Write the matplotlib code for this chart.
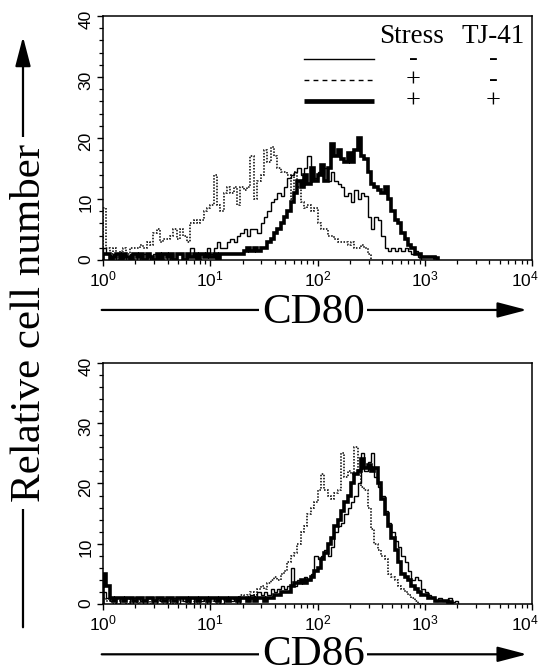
import matplotlib
matplotlib.use("Agg")
import matplotlib.pyplot as plt
import numpy as np
from matplotlib.patches import FancyArrowPatch
from matplotlib.ticker import LogLocator, MultipleLocator

# FACS histograms, 32 channels per decade over 10^0..10^4
CH_PER_DECADE = 32

# CD80: thin solid = Stress -, TJ-41 -
cd80_ctrl = [2, 1, 0, 1, 0, 1, 1, 0, 1, 0, 1, 0, 1, 1, 0, 1,
             0, 1, 1, 0, 1, 0, 1, 1, 0, 1, 2, 1, 0, 1, 1, 2,
             1, 2, 3, 2, 2, 3, 3.5, 3, 4, 4.5, 5, 4, 5, 5, 4.5, 6,
             7, 8, 9.5, 10, 11, 10.5, 12, 13.5, 14, 14.5, 15, 14, 15, 17, 14, 13.5,
             14.5, 14, 15, 13, 14.5, 13, 12.5, 12, 10.5, 11, 9.5, 11.5, 10, 11, 10.5, 7,
             5, 7, 6.5, 4, 2, 1.5, 2, 1.5, 2, 1.5, 2, 1.5, 1, 1.5, 0.5, 0]
# CD80: dotted = Stress +, TJ-41 -
cd80_stress = [8.5, 2, 1, 2, 0.5, 1.5, 2, 1, 2, 2, 2, 2.5, 2, 3, 2.5, 4.5,
               5, 3, 3.5, 3.5, 4, 5, 3.5, 5, 4, 3, 6, 6.5, 6, 6.5, 8, 8.5,
               9, 14, 9, 8, 11, 12, 11, 12, 9, 12, 11.5, 12, 17, 10, 13, 14,
               18, 16, 18.5, 17, 15, 14.5, 14.5, 14, 10, 14.5, 12, 9.5, 8.5, 9, 8, 8.5,
               6, 5, 5, 4, 4, 3.5, 3, 3, 3, 2.5, 3, 2, 2, 2.5, 2, 1]
# CD80: thick solid = Stress +, TJ-41 +
cd80_tj41 = [1, 1, 0, 0.5, 1, 0, 1, 0.5, 0, 1, 0.5, 1, 0, 1, 0.5, 0,
             1, 0, 1, 0.5, 1, 0, 1, 1, 0, 1, 0.5, 1, 0, 1, 0.5, 1,
             0.5, 1, 0, 1, 1, 1, 1, 1, 1, 1, 1.5, 2, 1.5, 2, 1.5, 2,
             2, 3, 3.5, 4.5, 5, 6, 7, 8, 9.5, 11, 13, 12, 14, 12.5, 15, 13,
             14, 15.5, 13, 15, 19, 17, 18, 16.5, 16, 17.5, 16, 18, 20, 17, 16.5, 14.5,
             12.5, 12, 11.5, 11, 12, 10, 8, 6.5, 6, 4.5, 3.5, 2.5, 2, 1, 1, 0.5,
             0.5, 0.5, 0.5, 0.3]

# CD86
cd86_ctrl = [2, 1, 0.5, 1, 0, 1, 0.5, 1, 0, 1, 1, 0.5, 0, 1, 1, 0,
             1, 0.5, 1, 0, 1, 1, 0, 1, 0.5, 1, 0, 1, 1, 0.5, 1, 0,
             1, 0.5, 1, 0, 1, 1, 0.5, 1, 0, 1, 1, 0.5, 1.5, 1, 2, 1.5,
             2, 1.5, 2.5, 2, 2.5, 3, 2.5, 3, 6, 3, 4, 3.5, 4.5, 4, 5, 8,
             7.5, 8, 9, 8, 9.5, 12, 13, 13.5, 15, 16, 17, 18, 20, 25, 22, 23.5,
             25, 21, 19.5, 18, 15.5, 13.5, 12, 10.5, 9.5, 8, 7, 5.5, 4, 4.5, 4, 2.5,
             2, 1.5, 1, 0.5, 1, 0.5, 0.5, 1, 0.3, 0.5]
cd86_stress = [1, 0.5, 1, 0, 1, 0.5, 1, 0, 1, 1, 0, 1, 0.5, 1, 0, 1,
               0.5, 1, 0, 1, 0.5, 0, 1, 0.5, 1, 0, 1, 0.5, 0, 1, 0.5, 1,
               0.5, 1, 0, 1, 0.5, 1, 1, 0.5, 1, 1.5, 1, 1.5, 2, 1.5, 2.5, 3,
               2.5, 3.5, 4, 4.5, 4, 5, 5.5, 7, 8, 8.5, 10, 12, 13, 15, 16, 17,
               19, 21.5, 19, 18, 17.5, 18.5, 19, 25, 21, 22, 21.5, 26, 22, 19.5, 19, 16,
               12.5, 10, 9, 8, 7.5, 5, 4.5, 4, 3, 2.5, 2, 1.5, 1, 0.5, 0, 0]
cd86_tj41 = [5, 3, 1, 0.5, 1, 1, 0.5, 1, 1, 0.5, 1, 1, 0.5, 1, 1, 0.5,
             1, 1, 0.5, 1, 1, 0.5, 1, 1, 1, 0.5, 1, 1, 0.5, 1, 1, 0.5,
             1, 1, 0.5, 1, 1, 0.5, 1, 1, 0.5, 1, 1, 0.5, 1, 0.5, 1, 1,
             0.5, 1, 1, 1.5, 1.5, 2, 2, 2, 3, 3.5, 3.5, 4, 3.5, 4, 4.5, 5.5,
             6, 7.5, 8.5, 10, 11, 13, 14, 15.5, 17, 18, 20, 21.5, 22, 24, 22.5, 23,
             22, 22.5, 20, 17.5, 15, 13, 11, 9, 7, 5, 4.5, 4, 3, 2.5, 2, 1.5,
             1.5, 1, 1, 0.5, 0.5, 0.5, 0.5, 0.3]

y_ticks = [0, 10, 20, 30, 40]
x_ticks = [1, 10, 100, 1000, 10000]
x_tick_labels = ["$10^{0}$", "$10^{1}$", "$10^{2}$", "$10^{3}$", "$10^{4}$"]

edges = np.logspace(0, 4, 4 * CH_PER_DECADE + 1)

SERIF = "Liberation Serif"
SANS = "Liberation Sans"
plt.rcParams["font.family"] = SANS
plt.rcParams["mathtext.fontset"] = "custom"
plt.rcParams["mathtext.rm"] = SANS
plt.rcParams["mathtext.it"] = SANS

TICK_FS = 12.5

fig = plt.figure(figsize=(5.41, 6.68), dpi=100)
ax_top = fig.add_axes([0.1904, 0.6108, 0.7930, 0.3653])
ax_bot = fig.add_axes([0.1904, 0.0958, 0.7930, 0.3608])


def draw_panel(ax, ctrl, stress, tj41):
    ax.stairs(stress, edges[:len(stress) + 1], color="k", lw=1.1,
              ls=(0, (1, 1)), zorder=2)
    ax.stairs(ctrl, edges[:len(ctrl) + 1], color="k", lw=1.0, zorder=3)
    ax.stairs(tj41, edges[:len(tj41) + 1], color="k", lw=2.6, zorder=4)
    ax.set_xscale("log")
    ax.set_xlim(1, 1e4)
    ax.set_ylim(0, 40)
    ax.set_yticks(y_ticks)
    ax.yaxis.set_minor_locator(MultipleLocator(2))
    # last decade label is nudged left below so it stays inside the figure
    ax.set_xticks(x_ticks, labels=x_tick_labels[:-1] + [""])
    ax.xaxis.set_minor_locator(LogLocator(base=10, subs=np.arange(2, 10),
                                          numticks=20))
    ax.tick_params(which="major", direction="out", length=4, width=1.0,
                   labelsize=TICK_FS, pad=2.5)
    ax.tick_params(which="minor", direction="out", length=3, width=0.9)
    ax.tick_params(axis="y", labelrotation=90, pad=3)
    ax.annotate(x_tick_labels[-1], xy=(x_ticks[-1], 0),
                xycoords=("data", "axes fraction"), xytext=(-5, -6.5),
                textcoords="offset points", ha="center", va="top",
                fontsize=TICK_FS)
    for s in ax.spines.values():
        s.set_linewidth(1.1)


draw_panel(ax_top, cd80_ctrl, cd80_stress, cd80_tj41)
draw_panel(ax_bot, cd86_ctrl, cd86_stress, cd86_tj41)

# legend drawn by hand, as in the figure
tr = ax_top.transAxes
ax_top.text(0.72, 0.889, "Stress", transform=tr, ha="center", va="baseline",
            fontsize=19.5, family=SERIF)
ax_top.text(0.909, 0.889, "TJ-41", transform=tr, ha="center", va="baseline",
            fontsize=19.5, family=SERIF)
legend_rows = [(0.824, dict(lw=1.0, ls="-"), "-", "-"),
               (0.738, dict(lw=1.0, ls=(0, (3.5, 3))), "+", "-"),
               (0.652, dict(lw=3.4, ls="-", solid_capstyle="butt"), "+", "+")]
for y, style, s1, s2 in legend_rows:
    ax_top.plot([0.469, 0.632], [y, y], transform=tr, color="k", **style)
    ax_top.text(0.723, y - 0.026, s1, transform=tr, ha="center",
                va="baseline", fontsize=19, family=SERIF)
    ax_top.text(0.909, y - 0.026, s2, transform=tr, ha="center",
                va="baseline", fontsize=19, family=SERIF)

# axis labels with arrows; CD86 sits on the bottom edge as in the figure
arrow_style = "-|>,head_length=1.8,head_width=0.47"
for y_line, y_text, label in [(0.536, 0.5165, "CD80"), (0.0205, 0.005, "CD86")]:
    fig.add_artist(FancyArrowPatch((0.188, y_line), (0.974, y_line),
                                   transform=fig.transFigure,
                                   arrowstyle=arrow_style, mutation_scale=10,
                                   lw=1.6, color="k", shrinkA=0, shrinkB=0))
    fig.text(0.579, y_text, label, ha="center", va="baseline", fontsize=31,
             family=SERIF,
             bbox=dict(fc="white", ec="none", pad=2))

fig.add_artist(FancyArrowPatch((0.0425, 0.061), (0.0425, 0.945),
                               transform=fig.transFigure,
                               arrowstyle=arrow_style, mutation_scale=10,
                               lw=1.6, color="k", shrinkA=0, shrinkB=0))
fig.text(0.074, 1 - 323 / 668, "Relative cell number", rotation=90,
         rotation_mode="anchor", ha="center", va="baseline", fontsize=31,
         family=SERIF, bbox=dict(fc="white", ec="none", pad=5))

fig.savefig("out.png", dpi=100)
